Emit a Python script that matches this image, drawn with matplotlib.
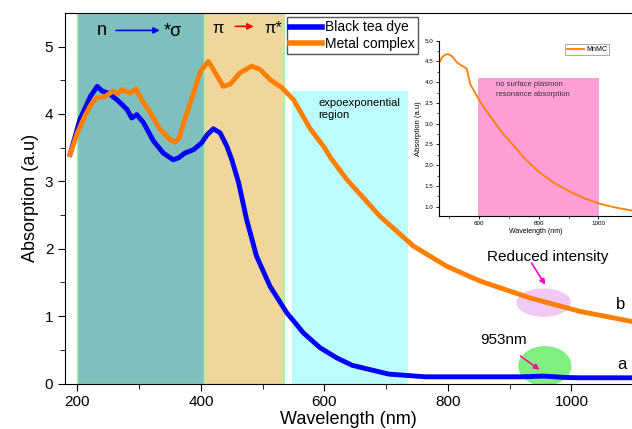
import matplotlib
matplotlib.use("Agg")
import matplotlib.pyplot as plt
from matplotlib.patches import Ellipse

plt.rcParams['font.family'] = ['Liberation Sans', 'DejaVu Sans']

# main curves
wl_tea = [188, 204, 221, 232, 240, 250, 264, 280, 288, 296, 307, 323, 339, 355, 364, 374,
          388, 401, 410, 420, 431, 442, 450, 461, 474, 490, 512, 539, 566, 593, 620, 645,
          704, 763, 852, 920, 955, 990, 1014, 1098]
abs_tea = [3.40, 3.92, 4.26, 4.41, 4.34, 4.31, 4.21, 4.07, 3.94, 3.99, 3.87, 3.60, 3.42, 3.32, 3.35, 3.42,
           3.47, 3.57, 3.69, 3.78, 3.72, 3.52, 3.32, 2.98, 2.43, 1.89, 1.44, 1.05, 0.75, 0.53, 0.38, 0.27,
           0.14, 0.10, 0.10, 0.10, 0.11, 0.09, 0.085, 0.085]

wl_mc = [188, 200, 212, 222, 231, 245, 258, 265, 272, 285, 295, 304, 318, 334, 350, 358, 365, 374,
         388, 399, 412, 420, 436, 447, 463, 482, 496, 512, 531, 550, 577, 600, 610, 636, 690, 744,
         798, 852, 933, 1014, 1098]
abs_mc = [3.40, 3.72, 3.97, 4.14, 4.24, 4.26, 4.34, 4.30, 4.36, 4.31, 4.37, 4.21, 4.02, 3.77, 3.62, 3.58, 3.65, 3.92,
          4.31, 4.63, 4.78, 4.66, 4.41, 4.44, 4.61, 4.71, 4.66, 4.51, 4.39, 4.21, 3.78, 3.50, 3.35, 3.03, 2.48, 2.04,
          1.74, 1.52, 1.27, 1.07, 0.92]

# inset curve
wl_in = [465, 475, 485, 496, 510, 525, 541, 558, 570, 600, 625, 650, 675, 700, 750, 800, 850, 900,
         950, 1000, 1050, 1110]
abs_in = [4.45, 4.60, 4.66, 4.68, 4.62, 4.48, 4.40, 4.33, 3.95, 3.57, 3.30, 3.05, 2.80, 2.60, 2.18, 1.84, 1.58, 1.38,
          1.21, 1.08, 0.99, 0.91]

fig = plt.figure(figsize=(6.32, 4.29), dpi=100)
ax = fig.add_axes([0.103, 0.106, 0.897, 0.864])

# shaded regions
ax.axvspan(200, 405, color='#7FBFBD', ec='#A8F0A8', lw=1, zorder=0)
ax.axvspan(405, 534, color='#F1D69B', ec='#A8F0A8', lw=0.8, zorder=0)
ax.fill_between([547, 736], 0, 4.34, color='#BDFCFC', lw=0, zorder=0)

ax.plot(wl_tea, abs_tea, color='#0000FF', lw=3.5, label='Black tea dye', zorder=3)
ax.plot(wl_mc, abs_mc, color='#FF7F00', lw=3.5, label='Metal complex', zorder=3)

ax.set_xlim(180, 1098)
ax.set_ylim(0, 5.5)
ax.set_xticks([200, 400, 600, 800, 1000])
ax.set_xticks([300, 500, 700, 900], minor=True)
ax.set_yticks([0, 1, 2, 3, 4, 5])
ax.set_yticks([0.5, 1.5, 2.5, 3.5, 4.5], minor=True)
ax.tick_params(which='both', direction='out', labelsize=11)
ax.tick_params(which='major', length=5)
ax.tick_params(which='minor', length=3.5)
ax.spines['right'].set_visible(False)
ax.set_xlabel('Wavelength (nm)', fontsize=13, labelpad=1)
ax.set_ylabel('Absorption (a.u)', fontsize=13)

leg = ax.legend(loc='upper left', bbox_to_anchor=(287 / 632, 1 - 17 / 429), bbox_transform=fig.transFigure,
                fontsize=10, handlelength=2.3, handletextpad=0.2, borderpad=0.25, labelspacing=0.15,
                borderaxespad=0, fancybox=False, framealpha=1)
leg.get_frame().set_edgecolor('#555555')
for line in leg.get_lines():
    line.set_linewidth(4)

# transition labels
ax.text(240, 5.24, 'n', fontsize=13, ha='center', va='center')
ax.annotate('', xy=(338, 5.24), xytext=(258, 5.24),
            arrowprops=dict(arrowstyle='-|>', color='#0000FF', lw=1.2, mutation_scale=9))
ax.text(339, 5.22, '*σ', fontsize=13, ha='left', va='center')
ax.text(428, 5.27, 'π', fontsize=12, ha='center', va='center')
ax.annotate('', xy=(490, 5.30), xytext=(451, 5.30),
            arrowprops=dict(arrowstyle='-|>', color='#FF0000', lw=1.2, mutation_scale=9))
ax.text(503, 5.27, 'π*', fontsize=12, ha='left', va='center')
ax.text(590, 4.24, 'expoexponential\nregion', fontsize=8, ha='left', va='top', linespacing=1.3)

# ellipses and arrows
ax.add_patch(Ellipse((955, 1.20), 86, 0.40, color='#F2C8F6', zorder=2))
ax.add_patch(Ellipse((957, 0.26), 84, 0.57, color='#80EE80', zorder=2))
ax.text(961, 1.88, 'Reduced intensity', fontsize=11, ha='center', va='center')
ax.annotate('', xy=(960, 1.43), xytext=(933, 1.82),
            arrowprops=dict(arrowstyle='-|>', color='#FF00CC', lw=1.2, mutation_scale=8))
ax.text(890, 0.65, '953nm', fontsize=11, ha='center', va='center')
ax.annotate('', xy=(952, 0.18), xytext=(914, 0.43),
            arrowprops=dict(arrowstyle='-|>', color='#FF1493', lw=1.2, mutation_scale=8), zorder=4)
ax.text(1079, 1.17, 'b', fontsize=12, ha='center', va='center')
ax.text(1082, 0.28, 'a', fontsize=12, ha='center', va='center')

# inset
ins = fig.add_axes([0.6946, 0.497, 0.3054, 0.408])
ins.fill_between([597, 1002], 0.5, 4.11, color='#FF9FD6', lw=0, zorder=0)
ins.plot(wl_in, abs_in, color='#FF7F00', lw=1.3, label='MnMC')
ins.set_xlim(465, 1113)
ins.set_ylim(0.78, 5.0)
ins.set_xticks([600, 800, 1000])
ins.set_xticks([500, 700, 900], minor=True)
ins.set_yticks([1.0, 1.5, 2.0, 2.5, 3.0, 3.5, 4.0, 4.5, 5.0])
ins.set_yticks([1.25, 1.75, 2.25, 2.75, 3.25, 3.75, 4.25, 4.75], minor=True)
ins.tick_params(which='both', direction='out', labelsize=4.5, pad=1.5)
ins.tick_params(which='major', length=2.5, width=0.6)
ins.tick_params(which='minor', length=1.5, width=0.5)
ins.spines['top'].set_visible(False)
ins.spines['right'].set_visible(False)
ins.set_xlabel('Wavelength (nm)', fontsize=5, labelpad=1)
ins.set_ylabel('Absorption (a.u)', fontsize=5.5, labelpad=2)
ins.text(658, 3.82, 'no surface plasmon\nresonance absorption', fontsize=5.5, ha='left', va='center',
         linespacing=1.5, color='#333333')
il = ins.legend(loc='upper right', bbox_to_anchor=(0.9, 1.0), fontsize=5, handlelength=2.5,
                handletextpad=0.3, borderpad=0.3, fancybox=False, framealpha=1)
il.get_frame().set_edgecolor('#888888')
il.get_frame().set_linewidth(0.5)

fig.savefig('out.png', dpi=100)
